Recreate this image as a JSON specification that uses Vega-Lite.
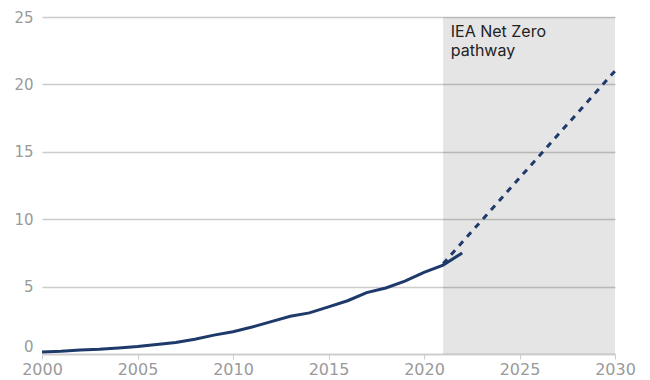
{
  "$schema": "https://vega.github.io/schema/vega-lite/v6.json",
  "width": 573,
  "height": 337,
  "autosize": {"type": "none"},
  "padding": {"left": 42, "top": 17, "right": 35, "bottom": 26},
  "config": {
    "view": {"stroke": null},
    "font": "Inter",
    "axis": {"labelFont": "DejaVu Sans", "labelFontSize": 15, "labelColor": "#9a9a9a", "title": null}
  },
  "datasets": {
    "hist": [
      {"year": 2000, "value": 0.15},
      {"year": 2001, "value": 0.2},
      {"year": 2002, "value": 0.3},
      {"year": 2003, "value": 0.35},
      {"year": 2004, "value": 0.45},
      {"year": 2005, "value": 0.55},
      {"year": 2006, "value": 0.7},
      {"year": 2007, "value": 0.85},
      {"year": 2008, "value": 1.1},
      {"year": 2009, "value": 1.4},
      {"year": 2010, "value": 1.65},
      {"year": 2011, "value": 2.0},
      {"year": 2012, "value": 2.4},
      {"year": 2013, "value": 2.8},
      {"year": 2014, "value": 3.05},
      {"year": 2015, "value": 3.5},
      {"year": 2016, "value": 3.95},
      {"year": 2017, "value": 4.55},
      {"year": 2018, "value": 4.9},
      {"year": 2019, "value": 5.4},
      {"year": 2020, "value": 6.05},
      {"year": 2021, "value": 6.6},
      {"year": 2022, "value": 7.5}
    ],
    "nz": [
      {"year": 2021, "value": 6.7},
      {"year": 2030, "value": 21.0}
    ],
    "band": [{"start": 2021, "end": 2030}],
    "note": [{"year": 2021.4, "value": 24.45, "label": ["IEA Net Zero", "pathway"]}]
  },
  "layer": [
    {
      "data": {"name": "band"},
      "mark": {"type": "rect", "color": "#000000", "opacity": 0.1},
      "encoding": {
        "x": {"field": "start", "type": "quantitative", "scale": {"domain": [2000, 2030], "nice": false},
          "axis": {"values": [2000, 2005, 2010, 2015, 2020, 2025, 2030], "format": "d", "grid": false, "domainColor": "#cccccc", "domainWidth": 1.5, "tickColor": "#cccccc", "tickSize": 5, "labelPadding": 2, "labelFlush": false, "labelBound": false, "labelOverlap": false, "labelFontSize": 16}},
        "x2": {"field": "end"},
        "y": {"datum": 0, "type": "quantitative", "scale": {"domain": [0, 25], "nice": false},
          "axis": {"values": [0, 5, 10, 15, 20, 25], "grid": true, "gridColor": "#cccccc", "gridWidth": 1.5, "domain": false, "ticks": false, "labelPadding": 9, "labelBaseline": {"expr": "datum.value == 0 ? 'bottom' : 'middle'"}}},
        "y2": {"datum": 25}
      }
    },
    {
      "data": {"name": "hist"},
      "mark": {"type": "line", "color": "#1e3a6b", "strokeWidth": 3},
      "encoding": {
        "x": {"field": "year", "type": "quantitative"},
        "y": {"field": "value", "type": "quantitative"}
      }
    },
    {
      "data": {"name": "nz"},
      "mark": {"type": "line", "color": "#1e3a6b", "strokeWidth": 3, "strokeDash": [6, 6]},
      "encoding": {
        "x": {"field": "year", "type": "quantitative"},
        "y": {"field": "value", "type": "quantitative"}
      }
    },
    {
      "data": {"name": "note"},
      "mark": {"type": "text", "align": "left", "baseline": "top", "fontSize": 16, "color": "#222222", "lineHeight": 19},
      "encoding": {
        "x": {"field": "year", "type": "quantitative"},
        "y": {"field": "value", "type": "quantitative"},
        "text": {"field": "label"}
      }
    }
  ]
}
